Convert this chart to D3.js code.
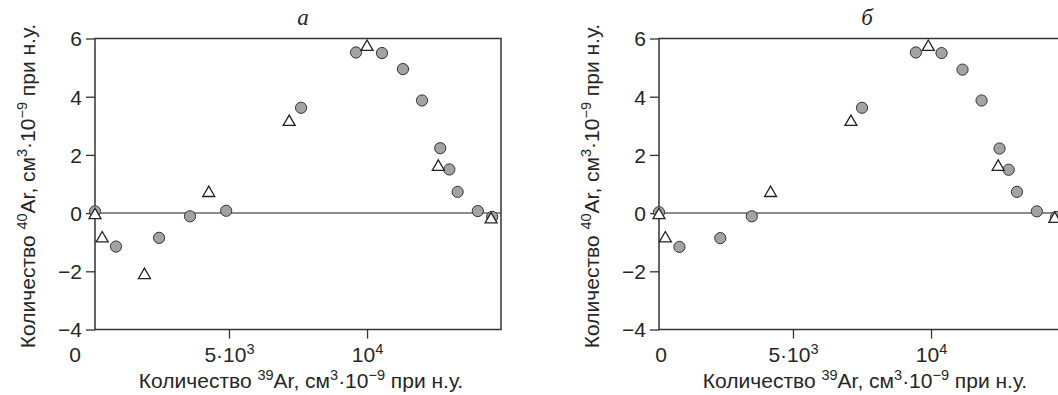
<!DOCTYPE html>
<html>
<head>
<meta charset="utf-8">
<script src="https://cdn.jsdelivr.net/npm/d3@7"></script>
<style>
  body { margin: 0; background: #fff; }
  svg text { font-family: "Liberation Sans", Arial, sans-serif; fill: #262626; }
</style>
</head>
<body>
<svg id="chart"></svg>
<script>
// Data: [39Ar, 40Ar]
const xDomain = [150, 14850];
const yDomain = [-4, 6];
const yTicks = [-4, -2, 0, 2, 4, 6];
const xTicks = [5000, 10000];
const xTickLabels = [["5·10", "3"], ["10", "4"]];
const panelTitles = ["а", "б"];

const aCircles = [
  [150, 0.06], [910, -1.15], [2470, -0.85], [3590, -0.11], [4900, 0.08],
  [7610, 3.62], [9600, 5.52], [10540, 5.5], [11300, 4.95], [11990, 3.87],
  [12650, 2.23], [12980, 1.5], [13280, 0.73], [14010, 0.07], [14530, -0.13]
];
const aTriangles = [
  [150, -0.07], [410, -0.87], [1940, -2.13], [4270, 0.69], [7180, 3.13],
  [10000, 5.71], [12580, 1.59], [14490, -0.22]
];
const bCircles = [
  [150, 0.03], [890, -1.16], [2370, -0.86], [3510, -0.11],
  [7500, 3.62], [9450, 5.52], [10380, 5.5], [11140, 4.93], [11830, 3.87],
  [12480, 2.22], [12810, 1.49], [13110, 0.73], [13830, 0.06], [14530, -0.13]
];
const bTriangles = [
  [150, -0.07], [380, -0.87], [4190, 0.69], [7100, 3.13],
  [9900, 5.71], [12430, 1.59], [14480, -0.2]
];

var chartW = 1058, chartH = 395;
var plotW = 406, plotTop = 38.5, plotBottom = 329.5;
var fs = 21, fsSup = 14.5;

const svg = d3.select("#chart").attr("width", chartW).attr("height", chartH);

function supLabel(sel, parts) {
  // parts: alternating normal / superscript strings
  parts.forEach((p, i) => {
    if (i % 2 === 0) {
      sel.append("tspan").attr("font-size", fs).attr("dy", i === 0 ? 0 : 8).text(p);
    } else {
      sel.append("tspan").attr("font-size", fsSup).attr("dy", -8).text(p);
    }
  });
}

function drawPanel(left, title, circles, triangles, zeroOffset, ylabX) {
  const x = d3.scaleLinear().domain(xDomain).range([left, left + plotW]);
  const y = d3.scaleLinear().domain(yDomain).range([plotBottom, plotTop]);
  const g = svg.append("g");

  // y axis ticks and labels
  const yAxis = g.append("g")
    .attr("transform", `translate(${left},0)`)
    .call(d3.axisLeft(y).tickValues(yTicks).tickSize(9).tickPadding(4)
      .tickFormat(d => d < 0 ? "\u2212" + Math.abs(d) : d));
  yAxis.select(".domain").remove();
  yAxis.selectAll("line").attr("stroke", "#333").attr("stroke-width", 1.3);
  yAxis.selectAll("text").attr("font-size", fs).attr("dy", "0.35em");

  // x axis ticks
  const xAxis = g.append("g")
    .attr("transform", `translate(0,${plotBottom})`)
    .call(d3.axisBottom(x).tickValues(xTicks).tickSize(9).tickFormat(""));
  xAxis.select(".domain").remove();
  xAxis.selectAll("line").attr("stroke", "#333").attr("stroke-width", 1.3);
  xAxis.selectAll(".tick").append("text")
    .attr("y", 32).attr("text-anchor", "middle")
    .each(function(d, i) { supLabel(d3.select(this), xTickLabels[i]); });

  g.append("text")
    .attr("x", left + zeroOffset).attr("y", plotBottom + 32)
    .attr("text-anchor", "middle").attr("font-size", fs).text("0");

  // zero line
  g.append("line")
    .attr("x1", x.range()[0]).attr("x2", x.range()[1])
    .attr("y1", y(0)).attr("y2", y(0))
    .attr("stroke", "#666").attr("stroke-width", 1.5);

  // frame
  g.append("rect")
    .attr("x", left).attr("y", plotTop)
    .attr("width", plotW).attr("height", plotBottom - plotTop)
    .attr("fill", "none").attr("stroke", "#333").attr("stroke-width", 1.5);

  // circles
  g.selectAll("circle.pt").data(circles).enter().append("circle")
    .attr("class", "pt")
    .attr("cx", d => x(d[0])).attr("cy", d => y(d[1]))
    .attr("r", 5.6)
    .attr("fill", "#a3a3a3").attr("stroke", "#333").attr("stroke-width", 1);

  // triangles
  const tri = d3.symbol().type(d3.symbolTriangle).size(62);
  g.selectAll("path.tri").data(triangles).enter().append("path")
    .attr("class", "tri")
    .attr("d", tri)
    .attr("transform", d => `translate(${x(d[0])},${y(d[1])})`)
    .attr("fill", "#fff").attr("stroke", "#222").attr("stroke-width", 1.3);

  // title
  g.append("text")
    .attr("x", left + plotW / 2 + 5).attr("y", 25)
    .attr("text-anchor", "middle")
    .style("font-family", "'Liberation Serif', 'DejaVu Serif', serif")
    .style("font-style", "italic").attr("font-size", 23)
    .text(title);

  // axis labels
  const xl = g.append("text")
    .attr("x", left + plotW / 2 + 3).attr("y", 388)
    .attr("text-anchor", "middle");
  supLabel(xl, ["Количество ", "39", "Ar, см", "3", "·10", "−9", " при н.у."]);

  const yl = g.append("text")
    .attr("transform", `translate(${ylabX},${(plotTop + plotBottom) / 2 + 2}) rotate(-90)`)
    .attr("text-anchor", "middle");
  supLabel(yl, ["Количество ", "40", "Ar, см", "3", "·10", "−9", " при н.у."]);
}

drawPanel(95, panelTitles[0], aCircles, aTriangles, -20, 35);
drawPanel(659, panelTitles[1], bCircles, bTriangles, 2, 599);
</script>
</body>
</html>
